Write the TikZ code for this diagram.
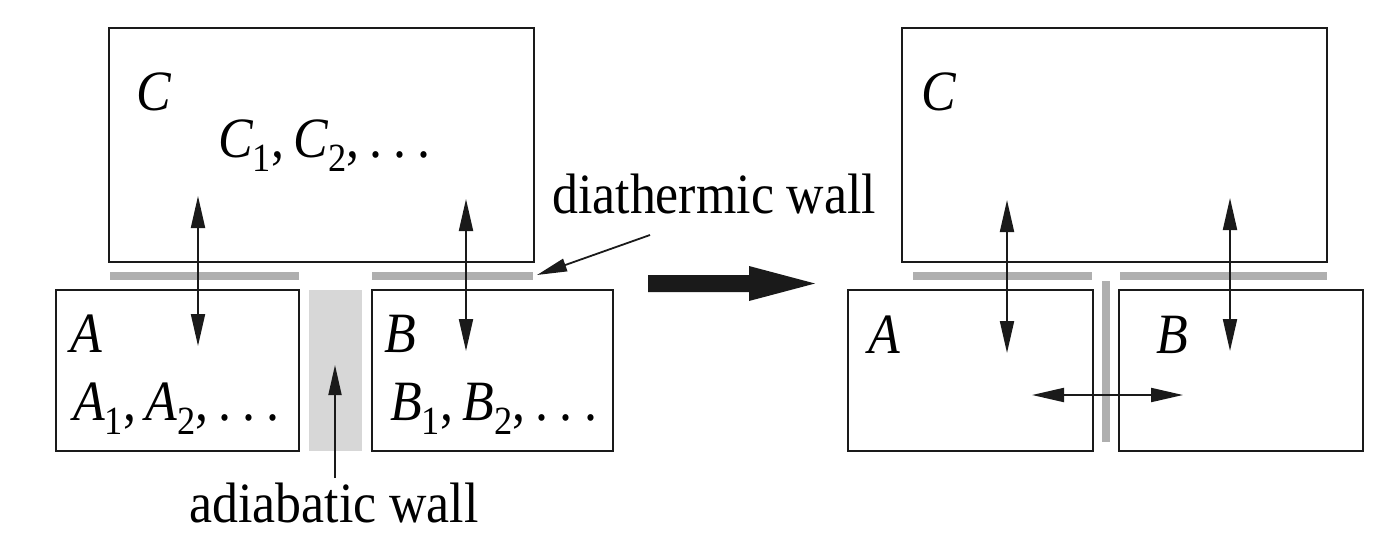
\documentclass[tikz,border=0pt]{standalone}
\usepackage{fontspec}
\setmainfont{Liberation Serif}[FakeStretch=0.91]
\usetikzlibrary{arrows.meta}
\definecolor{ink}{HTML}{1A1A1A}
\definecolor{diawall}{HTML}{AFAFAF}
\definecolor{adiawall}{HTML}{D7D7D7}
\newcommand\sbx[1]{\raisebox{-0.26em}{\upshape\fontsize{40}{40}\selectfont #1}}
\newcommand\cm{\upshape,\kern0.17em}
\newcommand\mydots{.\kern0.2em.\kern0.2em.}
\tikzset{
  box/.style={draw=ink, line width=2.6pt, rectangle, inner sep=0pt, fill=none},
  lbl/.style={inner sep=0pt, anchor=base west, font=\fontsize{57}{60}\selectfont},
  wallbar/.style={draw=diawall, line width=8pt},
  dbl/.style={draw=ink, line width=2pt, {Triangle[length=32pt,width=14pt]}-{Triangle[length=32pt,width=14pt]}},
  sgl/.style={draw=ink, line width=1.8pt, -{Triangle[length=30pt,width=13pt]}},
}
\begin{document}
\begin{tikzpicture}[x=1pt,y=-1pt]
\useasboundingbox (0,0) rectangle (1386,552);
% left panel boxes
\node[box, minimum width=425, minimum height=234] (CL) at (321.5,145) {};
\node[box, minimum width=243, minimum height=161] (AL) at (177.5,370.5) {};
\node[box, minimum width=241, minimum height=161] (BL) at (492.5,370.5) {};
\node[fill=adiawall, inner sep=0pt, minimum width=53, minimum height=161] (AW) at (335.5,370.5) {};
% diathermic walls (left)
\coordinate (dl1) at (110,276); \coordinate (dl2) at (299,276);
\coordinate (dr1) at (372,276); \coordinate (dr2) at (533,276);
\draw[wallbar] (dl1) -- (dl2);
\draw[wallbar] (dr1) -- (dr2);
% labels left
\node[lbl] (cL) at (136,110) {\itshape C};
\node[lbl] (cLs) at (218,157) {\itshape C\sbx{1}\cm\itshape C\sbx{2}\cm\mydots};
\node[lbl] (aL) at (70,352) {\itshape A};
\node[lbl] (aLs) at (73,420) {\itshape A\sbx{1}\cm\itshape A\sbx{2}\cm\mydots};
\node[lbl] (bL) at (384,352) {\itshape B};
\node[lbl] (bLs) at (390,420) {\itshape B\sbx{1}\cm\itshape B\sbx{2}\cm\mydots};
% arrows left
\coordinate (a1t) at (198,196); \coordinate (a1b) at (198,346);
\coordinate (a2t) at (466,199); \coordinate (a2b) at (466,351);
\draw[dbl] (a1t) -- (a1b);
\draw[dbl] (a2t) -- (a2b);
% wall labels
\node[lbl] (dia) at (552,213) {diathermic wall};
\node[lbl, anchor=base] (adi) at (334,522) {adiabatic wall};
\coordinate (diaS) at (650,235); \coordinate (diaE) at (537,275);
\draw[sgl] (diaS) -- (diaE);
\coordinate (adiS) at (335,478); \coordinate (adiE) at (335,365);
\draw[sgl] (adiS) -- (adiE);
% big arrow
\fill[ink] (648,275) -- (749,275) -- (749,266) -- (815,283.5) -- (749,301) -- (749,292) -- (648,292) -- cycle;
% right panel
\node[box, minimum width=425, minimum height=234] (CR) at (1114.5,145) {};
\node[box, minimum width=245, minimum height=161] (AR) at (970.5,370.5) {};
\node[box, minimum width=244, minimum height=161] (BR) at (1241,370.5) {};
\coordinate (rl1) at (913,276); \coordinate (rl2) at (1092,276);
\coordinate (rr1) at (1120,276); \coordinate (rr2) at (1327,276);
\coordinate (rv1) at (1106,281); \coordinate (rv2) at (1106,442);
\draw[wallbar] (rl1) -- (rl2);
\draw[wallbar] (rr1) -- (rr2);
\draw[wallbar] (rv1) -- (rv2);
\node[lbl] (cR) at (921,110) {\itshape C};
\node[lbl] (aR) at (868,353) {\itshape A};
\node[lbl] (bR) at (1156,353) {\itshape B};
\coordinate (r1t) at (1007,200); \coordinate (r1b) at (1007,353);
\coordinate (r2t) at (1230,198); \coordinate (r2b) at (1230,351);
\coordinate (hl) at (1032,395); \coordinate (hr) at (1183,395);
\draw[dbl] (r1t) -- (r1b);
\draw[dbl] (r2t) -- (r2b);
\draw[dbl] (hl) -- (hr);
\end{tikzpicture}
\end{document}
